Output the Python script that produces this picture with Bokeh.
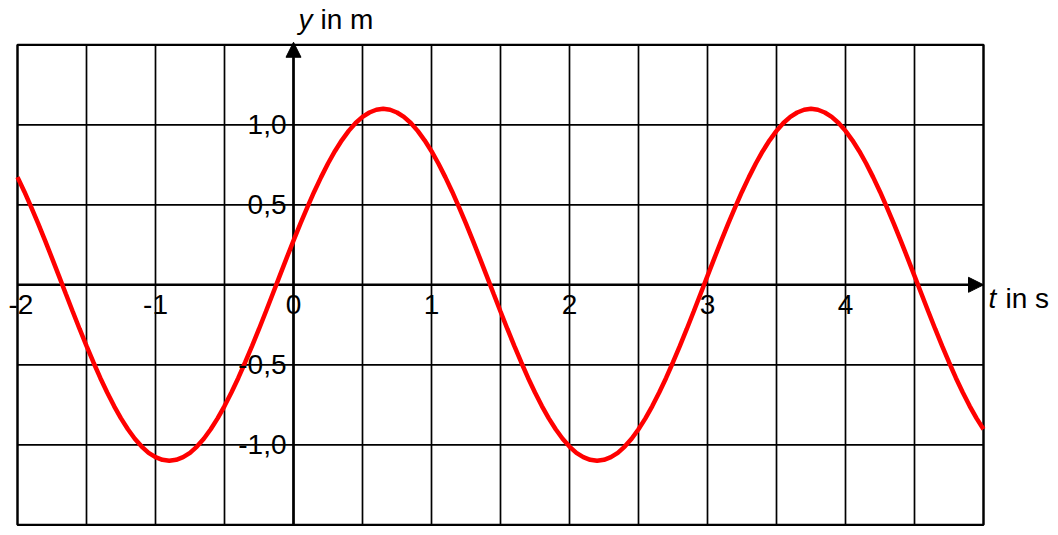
from bokeh.plotting import figure
from bokeh.models import Range1d, Arrow, NormalHead, Label, ColumnDataSource
from bokeh.embed import file_html
from bokeh.resources import INLINE

# ---- data ----
t_values = [-2.00, -1.95, -1.90, -1.85, -1.80, -1.75, -1.70, -1.65, -1.60, -1.55,
            -1.50, -1.45, -1.40, -1.35, -1.30, -1.25, -1.20, -1.15, -1.10, -1.05,
            -1.00, -0.95, -0.90, -0.85, -0.80, -0.75, -0.70, -0.65, -0.60, -0.55,
            -0.50, -0.45, -0.40, -0.35, -0.30, -0.25, -0.20, -0.15, -0.10, -0.05,
            0.00, 0.05, 0.10, 0.15, 0.20, 0.25, 0.30, 0.35, 0.40, 0.45,
            0.50, 0.55, 0.60, 0.65, 0.70, 0.75, 0.80, 0.85, 0.90, 0.95,
            1.00, 1.05, 1.10, 1.15, 1.20, 1.25, 1.30, 1.35, 1.40, 1.45,
            1.50, 1.55, 1.60, 1.65, 1.70, 1.75, 1.80, 1.85, 1.90, 1.95,
            2.00, 2.05, 2.10, 2.15, 2.20, 2.25, 2.30, 2.35, 2.40, 2.45,
            2.50, 2.55, 2.60, 2.65, 2.70, 2.75, 2.80, 2.85, 2.90, 2.95,
            3.00, 3.05, 3.10, 3.15, 3.20, 3.25, 3.30, 3.35, 3.40, 3.45,
            3.50, 3.55, 3.60, 3.65, 3.70, 3.75, 3.80, 3.85, 3.90, 3.95,
            4.00, 4.05, 4.10, 4.15, 4.20, 4.25, 4.30, 4.35, 4.40, 4.45,
            4.50, 4.55, 4.60, 4.65, 4.70, 4.75, 4.80, 4.85, 4.90, 4.95, 5.00]
y_values = [0.673, 0.582, 0.484, 0.382, 0.276, 0.167, 0.056, -0.056, -0.167, -0.276,
            -0.382, -0.484, -0.582, -0.673, -0.758, -0.835, -0.903, -0.962, -1.011, -1.050,
            -1.077, -1.094, -1.100, -1.094, -1.077, -1.050, -1.011, -0.962, -0.903, -0.835,
            -0.758, -0.673, -0.582, -0.484, -0.382, -0.276, -0.167, -0.056, 0.056, 0.167,
            0.276, 0.382, 0.484, 0.582, 0.673, 0.758, 0.835, 0.903, 0.962, 1.011,
            1.050, 1.077, 1.094, 1.100, 1.094, 1.077, 1.050, 1.011, 0.962, 0.903,
            0.835, 0.758, 0.673, 0.582, 0.484, 0.382, 0.276, 0.167, 0.056, -0.056,
            -0.167, -0.276, -0.382, -0.484, -0.582, -0.673, -0.758, -0.835, -0.903, -0.962,
            -1.011, -1.050, -1.077, -1.094, -1.100, -1.094, -1.077, -1.050, -1.011, -0.962,
            -0.903, -0.835, -0.758, -0.673, -0.582, -0.484, -0.382, -0.276, -0.167, -0.056,
            0.056, 0.167, 0.276, 0.382, 0.484, 0.582, 0.673, 0.758, 0.835, 0.903,
            0.962, 1.011, 1.050, 1.077, 1.094, 1.100, 1.094, 1.077, 1.050, 1.011,
            0.962, 0.903, 0.835, 0.758, 0.673, 0.582, 0.484, 0.382, 0.276, 0.167,
            0.056, -0.056, -0.167, -0.276, -0.382, -0.484, -0.582, -0.673, -0.758, -0.835, -0.903]

grid_t = [-2.0, -1.5, -1.0, -0.5, 0.0, 0.5, 1.0, 1.5, 2.0, 2.5, 3.0, 3.5, 4.0, 4.5, 5.0]
grid_y = [-1.5, -1.0, -0.5, 0.0, 0.5, 1.0, 1.5]

x_ticks = [-2, -1, 0, 1, 2, 3, 4]
x_tick_labels = ["-2", "-1", "0", "1", "2", "3", "4"]
y_ticks = [1.0, 0.5, -0.5, -1.0]
y_tick_labels = ["1,0", "0,5", "-0,5", "-1,0"]

x_title_var, x_title_unit = "t", "in s"
y_title_var, y_title_unit = "y", "in m"

# ---- styling ----
FONT = "Liberation Sans"
FSIZE = "28px"
W, H = 1058, 535
PX_PER_T = 138.0       # pixels per second
PX_PER_Y = 160.0       # pixels per metre
LEFT_PX = 17.0         # where t=-2 sits
ZERO_Y_PX = 284.3      # where y=0 sits (from top)

t_lo = grid_t[0] - LEFT_PX / PX_PER_T
t_hi = t_lo + W / PX_PER_T
y_hi = ZERO_Y_PX / PX_PER_Y
y_lo = y_hi - H / PX_PER_Y

p = figure(width=W, height=H, output_backend="svg", toolbar_location=None,
           x_range=Range1d(t_lo, t_hi), y_range=Range1d(y_lo, y_hi),
           x_axis_location=None, y_axis_location=None,
           min_border_left=0, min_border_right=0, min_border_top=0, min_border_bottom=0,
           background_fill_color="white", border_fill_color="white")
p.outline_line_color = None
p.xgrid.visible = False
p.ygrid.visible = False

# grid lines (drawn from the grid value lists)
vx0 = grid_t
vy0 = [grid_y[0]] * len(grid_t)
vy1 = [grid_y[-1]] * len(grid_t)
p.segment(x0=vx0, y0=vy0, x1=vx0, y1=vy1, line_color="black", line_width=1.7)
hx0 = [grid_t[0]] * len(grid_y)
hx1 = [grid_t[-1]] * len(grid_y)
p.segment(x0=hx0, y0=grid_y, x1=hx1, y1=grid_y, line_color="black", line_width=1.7)
# outer box
p.quad(left=[grid_t[0]], right=[grid_t[-1]], bottom=[grid_y[0]], top=[grid_y[-1]],
       fill_color=None, line_color="black", line_width=2.2)

# axes with arrows
p.add_layout(Arrow(end=NormalHead(size=15, fill_color="black", line_color="black", line_width=1),
                   x_start=grid_t[0], y_start=0, x_end=grid_t[-1], y_end=0,
                   line_color="black", line_width=2.6, level="underlay"))
p.add_layout(Arrow(end=NormalHead(size=15, fill_color="black", line_color="black", line_width=1),
                   x_start=0, y_start=grid_y[0], x_end=0, y_end=grid_y[-1] + 0.016,
                   line_color="black", line_width=2.6, level="underlay"))

src = ColumnDataSource(data=dict(t=t_values, y=y_values))
p.line("t", "y", source=src, line_color="#ff0000", line_width=4.5)

# tick labels on x axis
for i, (v, s) in enumerate(zip(x_ticks, x_tick_labels)):
    if i == 0:
        p.add_layout(Label(x=v, y=0, text=s, x_offset=-9, y_offset=-20,
                           text_align="left", text_baseline="middle",
                           text_font=FONT, text_font_size=FSIZE, text_color="black"))
    else:
        p.add_layout(Label(x=v, y=0, text=s, y_offset=-20,
                           text_align="center", text_baseline="middle",
                           text_font=FONT, text_font_size=FSIZE, text_color="black"))

# tick labels on y axis
for v, s in zip(y_ticks, y_tick_labels):
    p.add_layout(Label(x=0, y=v, text=s, x_offset=-7,
                       text_align="right", text_baseline="middle",
                       text_font=FONT, text_font_size=FSIZE, text_color="black"))

# axis titles
p.add_layout(Label(x=0, y=grid_y[-1], text=y_title_var, x_offset=5, y_offset=25,
                   text_align="left", text_baseline="middle", text_font_style="italic",
                   text_font=FONT, text_font_size=FSIZE, text_color="black"))
p.add_layout(Label(x=0, y=grid_y[-1], text=y_title_unit, x_offset=27, y_offset=25,
                   text_align="left", text_baseline="middle",
                   text_font=FONT, text_font_size=FSIZE, text_color="black"))
p.add_layout(Label(x=grid_t[-1], y=0, text=x_title_var, x_offset=5, y_offset=-14,
                   text_align="left", text_baseline="middle", text_font_style="italic",
                   text_font=FONT, text_font_size=FSIZE, text_color="black"))
p.add_layout(Label(x=grid_t[-1], y=0, text=x_title_unit, x_offset=22, y_offset=-14,
                   text_align="left", text_baseline="middle",
                   text_font=FONT, text_font_size=FSIZE, text_color="black"))

open("out.html", "w").write(file_html(p, INLINE))
